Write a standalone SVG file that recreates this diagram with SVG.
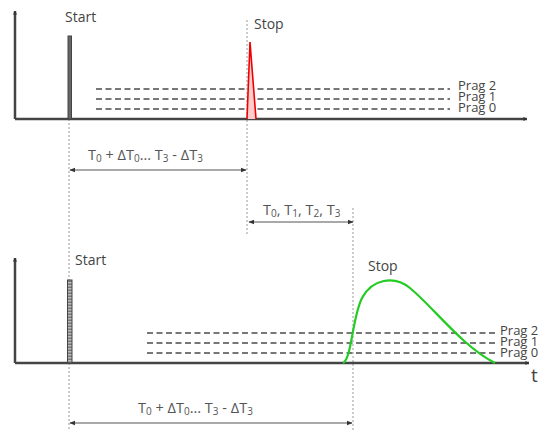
<svg xmlns="http://www.w3.org/2000/svg" width="539" height="432" viewBox="0 0 539 432">
<defs>
<marker id="ah" viewBox="0 0 10 10" refX="9" refY="5" markerWidth="4" markerHeight="4" orient="auto-start-reverse" markerUnits="userSpaceOnUse">
<path d="M0,0 L10,5 L0,10 Z" fill="#333"/>
</marker>
<marker id="dh" viewBox="0 0 10 10" refX="9" refY="5" markerWidth="6" markerHeight="6" orient="auto-start-reverse" markerUnits="userSpaceOnUse">
<path d="M0,1 L10,5 L0,9 Z" fill="#333"/>
</marker>
<pattern id="hatch" width="4" height="3" patternUnits="userSpaceOnUse">
<rect width="4" height="3" fill="#bbb"/>
<rect y="1.5" width="4" height="1.5" fill="#777"/>
</pattern>
</defs>
<style>
.axis{stroke:#444;stroke-width:2.5;fill:none}
.guide{stroke:#999;stroke-width:1;stroke-dasharray:2 2;fill:none}
.thr{stroke:#777;stroke-width:2;stroke-dasharray:6 3.5;fill:none}
.dim{stroke:#555;stroke-width:1.2;fill:none}
.lbl{font-family:"Open Sans","DejaVu Sans",sans-serif;font-size:14px;fill:#444}
.prag{font-family:"Open Sans","DejaVu Sans",sans-serif;font-size:13px;fill:#444}
.dt{font-family:"Open Sans","DejaVu Sans",sans-serif;font-size:14.5px;fill:#555}
.sub{font-size:10px}
</style>
<rect width="539" height="432" fill="#fff"/>

<g id="guides">
<line class="guide" x1="69" y1="119" x2="69" y2="430"/>
<line class="guide" x1="247" y1="20" x2="247" y2="235"/>
<line class="guide" x1="353" y1="208" x2="353" y2="430"/>
</g>

<g id="top-panel">
<line class="thr" x1="96" y1="89" x2="450" y2="89"/>
<line class="thr" x1="96" y1="99" x2="450" y2="99"/>
<line class="thr" x1="96" y1="109" x2="450" y2="109"/>
<text class="prag" x="458" y="90">Prag 2</text>
<text class="prag" x="458" y="101">Prag 1</text>
<text class="prag" x="458" y="112">Prag 0</text>
<line class="axis" x1="15" y1="119" x2="15" y2="11" marker-end="url(#ah)"/>
<line class="axis" x1="15" y1="119" x2="527" y2="119" marker-end="url(#ah)"/>
<rect x="68" y="36" width="3.5" height="83" fill="#666" stroke="#444" stroke-width="1"/>
<text class="lbl" x="65" y="22">Start</text>
<path d="M247,119 L250,42 L256,119" fill="#fcc" stroke="#e00" stroke-width="1.6"/>
<text class="lbl" x="254" y="29">Stop</text>
</g>

<g id="bottom-panel">
<line class="thr" x1="147" y1="333" x2="497" y2="333"/>
<line class="thr" x1="147" y1="343" x2="497" y2="343"/>
<line class="thr" x1="147" y1="353" x2="497" y2="353"/>
<text class="prag" x="500" y="335">Prag 2</text>
<text class="prag" x="500" y="346">Prag 1</text>
<text class="prag" x="500" y="357">Prag 0</text>
<line class="axis" x1="15" y1="363" x2="15" y2="258" marker-end="url(#ah)"/>
<line class="axis" x1="15" y1="363" x2="529" y2="363" marker-end="url(#ah)"/>
<rect x="67.5" y="280" width="4.5" height="83" fill="url(#hatch)" stroke="#444" stroke-width="1"/>
<text class="lbl" x="75" y="265">Start</text>
<path d="M343,363 C352,358 352,318 362,298 C372,279 394,275 410,288 C434,308 462,346 495,363" fill="none" stroke="#2c2" stroke-width="2.2"/>
<text class="lbl" x="368" y="271">Stop</text>
<text class="lbl" x="531" y="382" style="font-size:19px">t</text>
</g>

<g id="connectors">
<line class="dim" x1="70" y1="170" x2="246" y2="170" marker-start="url(#dh)" marker-end="url(#dh)"/>
<line class="dim" x1="249" y1="222" x2="353" y2="222" marker-start="url(#dh)" marker-end="url(#dh)"/>
<line class="dim" x1="70" y1="423" x2="352" y2="423" marker-start="url(#dh)" marker-end="url(#dh)"/>
</g>

<g id="labels">
<text class="dt" x="88" y="160">T<tspan class="sub" dy="2">0</tspan><tspan dy="-2"> + ΔT</tspan><tspan class="sub" dy="2">0</tspan><tspan dy="-2">... T</tspan><tspan class="sub" dy="2">3</tspan><tspan dy="-2"> - ΔT</tspan><tspan class="sub" dy="2">3</tspan></text>
<text class="dt" x="263" y="215">T<tspan class="sub" dy="2">0</tspan><tspan dy="-2">, T</tspan><tspan class="sub" dy="2">1</tspan><tspan dy="-2">, T</tspan><tspan class="sub" dy="2">2</tspan><tspan dy="-2">, T</tspan><tspan class="sub" dy="2">3</tspan></text>
<text class="dt" x="138" y="413">T<tspan class="sub" dy="2">0</tspan><tspan dy="-2"> + ΔT</tspan><tspan class="sub" dy="2">0</tspan><tspan dy="-2">... T</tspan><tspan class="sub" dy="2">3</tspan><tspan dy="-2"> - ΔT</tspan><tspan class="sub" dy="2">3</tspan></text>
</g>
</svg>
